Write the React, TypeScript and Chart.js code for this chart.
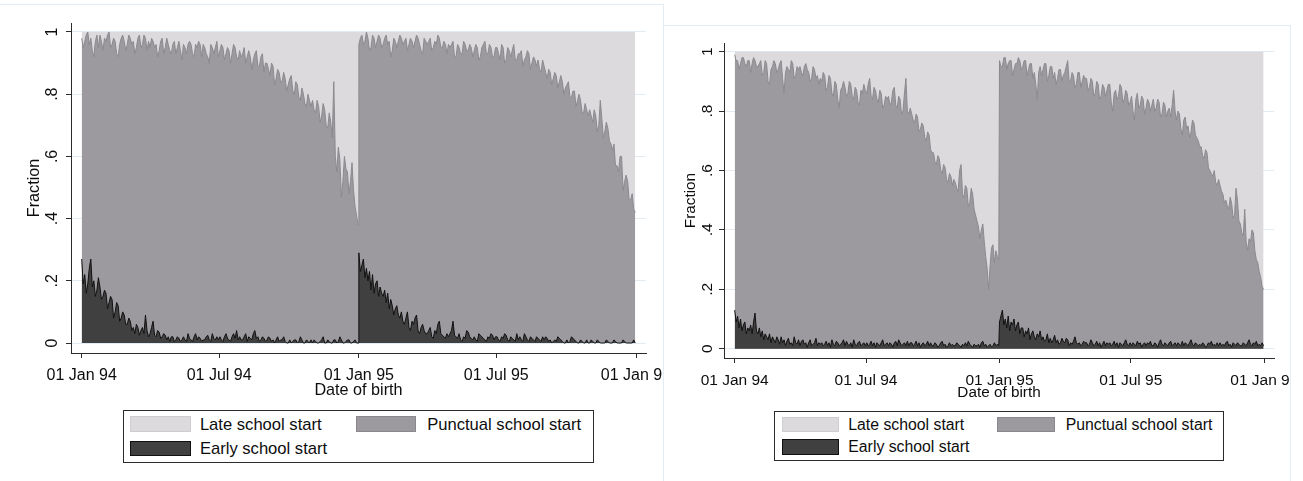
import React, { useEffect, useRef } from "react";
import { Chart, registerables } from "chart.js";

Chart.register(...registerables);

// ---------- data ----------
// Birth years, as day offsets from 01 Jan 1994; each year's values are sampled every 2nd day.
const YEAR_START_DAYS = [0, 365];
const YEAR_LAST_DAY_OFFSET = 364;

const X_TICK_DAYS = [0, 181, 365, 546, 730];
const X_TICK_LABELS = ["01 Jan 94", "01 Jul 94", "01 Jan 95", "01 Jul 95", "01 Jan 96"];
const Y_TICKS = [0, 0.2, 0.4, 0.6, 0.8, 1];
const Y_TICK_LABELS = ["0", ".2", ".4", ".6", ".8", "1"];
const X_TITLE = "Date of birth";
const Y_TITLE = "Fraction";
const SERIES_NAMES = ["Late school start", "Punctual school start", "Early school start"];

// Left panel: share with early or punctual start (upper edge of the punctual area)
const LEFT_EARLY_OR_PUNCTUAL_1994 = [
  0.98, 0.95, 0.97, 0.99, 1.0, 0.96, 0.98, 0.94, 0.92, 0.97, 0.99, 0.95, 0.99, 0.97, 0.94, 0.98,
  0.97, 0.99, 1.0, 0.95, 0.96, 0.98, 0.97, 0.93, 0.92, 0.96, 0.98, 0.99, 0.97, 0.94,
  0.96, 0.99, 0.98, 0.96, 0.97, 0.93, 0.95, 0.98, 0.99, 0.95, 0.96, 0.99, 0.98, 0.94, 0.97,
  0.95, 0.98, 0.97, 0.95, 0.96, 0.92, 0.94, 0.97, 0.98, 0.93, 0.95, 0.98, 0.96, 0.94, 0.93,
  0.96, 0.97, 0.93, 0.95, 0.97, 0.94, 0.91, 0.96, 0.95, 0.93, 0.96, 0.97, 0.96, 0.93, 0.92, 0.96,
  0.95, 0.97, 0.96, 0.92, 0.96, 0.95, 0.93, 0.92, 0.90, 0.96, 0.95, 0.93, 0.95, 0.97, 0.92,
  0.94, 0.96, 0.95, 0.91, 0.93, 0.95, 0.94, 0.90, 0.93, 0.96, 0.95, 0.92, 0.91, 0.94, 0.92,
  0.93, 0.95, 0.90, 0.92, 0.94, 0.92, 0.88, 0.91, 0.93, 0.94, 0.89, 0.89, 0.92, 0.93, 0.87, 0.90,
  0.90, 0.88, 0.86, 0.90, 0.89, 0.83, 0.85, 0.88, 0.87, 0.84, 0.84, 0.87, 0.85, 0.81, 0.83,
  0.85, 0.86, 0.81, 0.80, 0.84, 0.83, 0.79, 0.78, 0.82, 0.80, 0.77, 0.76, 0.80, 0.78, 0.76,
  0.78, 0.75, 0.74, 0.78, 0.76, 0.71, 0.73, 0.77, 0.75, 0.70, 0.69, 0.74, 0.71, 0.66, 0.84,
  0.60, 0.55, 0.63, 0.59, 0.47, 0.52, 0.60, 0.56, 0.55, 0.48, 0.52, 0.58, 0.49, 0.44, 0.41, 0.38,
];
const LEFT_EARLY_OR_PUNCTUAL_1995 = [
  0.96, 0.98, 0.99, 0.96, 0.97, 1.0, 0.98, 0.94, 0.95, 0.99, 0.98, 0.95, 0.97, 0.99, 0.98, 0.95,
  0.96, 0.98, 0.99, 0.96, 0.97, 0.92, 0.94, 0.98, 0.97, 0.95, 0.97, 0.99, 0.98, 0.96,
  0.97, 0.98, 0.94, 0.96, 0.98, 0.97, 0.95, 0.97, 0.99, 0.98, 0.96, 0.94, 0.93, 0.98, 0.97,
  0.96, 0.97, 0.98, 0.94, 0.95, 0.97, 0.96, 0.99, 0.98, 0.95, 0.95, 0.97, 0.96, 0.93, 0.96,
  0.95, 0.96, 0.97, 0.92, 0.92, 0.96, 0.95, 0.93, 0.93, 0.97, 0.96, 0.94, 0.94, 0.96, 0.95, 0.92,
  0.94, 0.96, 0.95, 0.91, 0.92, 0.95, 0.96, 0.97, 0.93, 0.93, 0.96, 0.95, 0.92, 0.92, 0.95,
  0.95, 0.93, 0.91, 0.96, 0.95, 0.90, 0.91, 0.95, 0.94, 0.92, 0.94, 0.96, 0.91, 0.91, 0.93,
  0.93, 0.94, 0.89, 0.91, 0.92, 0.94, 0.93, 0.88, 0.90, 0.92, 0.91, 0.89, 0.91, 0.88, 0.87, 0.91,
  0.89, 0.87, 0.85, 0.88, 0.87, 0.83, 0.85, 0.87, 0.86, 0.82, 0.84, 0.86, 0.84, 0.80, 0.82,
  0.83, 0.84, 0.79, 0.79, 0.81, 0.81, 0.76, 0.78, 0.80, 0.78, 0.74, 0.74, 0.77, 0.75, 0.73,
  0.75, 0.73, 0.71, 0.75, 0.73, 0.68, 0.70, 0.78, 0.72, 0.66, 0.68, 0.71, 0.69, 0.65, 0.64,
  0.62, 0.64, 0.57, 0.57, 0.55, 0.60, 0.60, 0.49, 0.52, 0.54, 0.52, 0.46, 0.46, 0.48, 0.43, 0.42,
];
const LEFT_EARLY_1994 = [
  0.27, 0.19, 0.22, 0.16, 0.19, 0.24, 0.27, 0.18, 0.20, 0.15, 0.17, 0.21, 0.18, 0.14, 0.15, 0.17,
  0.16, 0.11, 0.13, 0.15, 0.14, 0.08, 0.10, 0.13, 0.12, 0.07, 0.08, 0.10, 0.09, 0.06,
  0.06, 0.08, 0.07, 0.04, 0.05, 0.03, 0.06, 0.05, 0.025, 0.04, 0.05, 0.03, 0.09, 0.04, 0.02,
  0.03, 0.05, 0.07, 0.025, 0.02, 0.04, 0.035, 0.015, 0.02, 0.03, 0.025, 0.01, 0.02, 0.005, 0.02,
  0.02, 0.005, 0.01, 0.02, 0.015, 0.005, 0.01, 0.02, 0.01, 0.005, 0.03, 0.015, 0.01, 0.005, 0.02, 0.03,
  0.01, 0.02, 0.015, 0.005, 0.01, 0.01, 0.02, 0.025, 0.01, 0.005, 0.03, 0.015, 0.01, 0.02, 0.01,
  0.02, 0.01, 0.005, 0.02, 0.03, 0.015, 0.01, 0.005, 0.02, 0.03, 0.015, 0.04, 0.01, 0.02, 0.01,
  0.01, 0.02, 0.03, 0.005, 0.02, 0.015, 0.01, 0.03, 0.04, 0.015, 0.02, 0.005, 0.01, 0.02, 0.015, 0.005,
  0.01, 0.02, 0.015, 0.005, 0.01, 0.0, 0.01, 0.02, 0.005, 0.01, 0.01, 0.02, 0.005, 0.0, 0.0,
  0.01, 0.0, 0.005, 0.01, 0.01, 0.0, 0.005, 0.02, 0.01, 0.0, 0.0, 0.01, 0.005, 0.0, 0.01,
  0.0, 0.01, 0.005, 0.0, 0.0, 0.005, 0.01, 0.02, 0.0, 0.0, 0.01, 0.005, 0.0, 0.0, 0.01,
  0.01, 0.0, 0.005, 0.02, 0.01, 0.0, 0.0, 0.005, 0.01, 0.01, 0.0, 0.0, 0.005, 0.01, 0.0, 0.0,
];
const LEFT_EARLY_1995 = [
  0.29, 0.23, 0.25, 0.27, 0.21, 0.24, 0.20, 0.23, 0.17, 0.22, 0.16, 0.19, 0.20, 0.15, 0.18, 0.16,
  0.15, 0.17, 0.13, 0.16, 0.11, 0.14, 0.12, 0.09, 0.11, 0.12, 0.09, 0.08, 0.10, 0.07,
  0.06, 0.08, 0.10, 0.05, 0.04, 0.07, 0.06, 0.08, 0.09, 0.04, 0.03, 0.05, 0.06, 0.04, 0.03,
  0.03, 0.04, 0.05, 0.02, 0.015, 0.04, 0.03, 0.06, 0.07, 0.03, 0.025, 0.02, 0.015, 0.03, 0.02,
  0.03, 0.04, 0.07, 0.025, 0.02, 0.015, 0.03, 0.01, 0.005, 0.02, 0.015, 0.04, 0.035, 0.02, 0.015, 0.01,
  0.02, 0.01, 0.005, 0.03, 0.025, 0.02, 0.015, 0.01, 0.005, 0.02, 0.015, 0.03, 0.025, 0.01, 0.02,
  0.02, 0.01, 0.005, 0.02, 0.015, 0.03, 0.025, 0.01, 0.005, 0.02, 0.015, 0.01, 0.005, 0.03, 0.01,
  0.02, 0.01, 0.005, 0.03, 0.02, 0.01, 0.005, 0.02, 0.015, 0.01, 0.005, 0.02, 0.015, 0.01, 0.005, 0.02,
  0.01, 0.02, 0.015, 0.005, 0.01, 0.0, 0.005, 0.01, 0.005, 0.02, 0.015, 0.01, 0.005, 0.0, 0.0,
  0.01, 0.0, 0.005, 0.02, 0.015, 0.01, 0.005, 0.0, 0.0, 0.01, 0.005, 0.0, 0.0, 0.01, 0.0,
  0.0, 0.01, 0.005, 0.0, 0.0, 0.01, 0.005, 0.0, 0.0, 0.0, 0.0, 0.01, 0.005, 0.0, 0.0,
  0.0, 0.01, 0.005, 0.0, 0.0, 0.0, 0.0, 0.01, 0.005, 0.0, 0.0, 0.0, 0.0, 0.0, 0.01, 0.0,
];

// Right panel
const RIGHT_EARLY_OR_PUNCTUAL_1994 = [
  0.99, 0.97, 0.97, 0.94, 0.96, 0.98, 0.98, 0.96, 0.95, 0.97, 0.97, 0.93, 0.96, 0.98, 0.97, 0.95,
  0.95, 0.96, 0.97, 0.92, 0.93, 0.97, 0.96, 0.90, 0.89, 0.94, 0.95, 0.97, 0.96, 0.93,
  0.94, 0.96, 0.97, 0.91, 0.86, 0.93, 0.95, 0.94, 0.93, 0.97, 0.96, 0.91, 0.92, 0.95, 0.94,
  0.95, 0.93, 0.92, 0.95, 0.96, 0.94, 0.93, 0.90, 0.91, 0.95, 0.94, 0.91, 0.92, 0.89, 0.91,
  0.90, 0.93, 0.92, 0.87, 0.88, 0.92, 0.91, 0.86, 0.85, 0.90, 0.89, 0.84, 0.81, 0.87, 0.88, 0.90,
  0.88, 0.85, 0.86, 0.90, 0.89, 0.85, 0.84, 0.88, 0.87, 0.83, 0.82, 0.87, 0.86, 0.89, 0.87,
  0.86, 0.89, 0.91, 0.85, 0.84, 0.88, 0.87, 0.84, 0.83, 0.87, 0.86, 0.81, 0.82, 0.85, 0.84,
  0.85, 0.82, 0.83, 0.87, 0.88, 0.82, 0.81, 0.85, 0.84, 0.79, 0.80, 0.86, 0.91, 0.80, 0.79, 0.81,
  0.79, 0.77, 0.76, 0.79, 0.78, 0.73, 0.74, 0.76, 0.75, 0.71, 0.70, 0.73, 0.72, 0.67, 0.66,
  0.66, 0.63, 0.62, 0.65, 0.64, 0.60, 0.59, 0.62, 0.61, 0.57, 0.56, 0.59, 0.58, 0.55, 0.57,
  0.56, 0.54, 0.53, 0.60, 0.62, 0.52, 0.51, 0.55, 0.54, 0.48, 0.49, 0.54, 0.52, 0.47, 0.45,
  0.43, 0.41, 0.37, 0.40, 0.42, 0.36, 0.31, 0.27, 0.20, 0.28, 0.34, 0.35, 0.29, 0.33, 0.31, 0.30,
];
const RIGHT_EARLY_OR_PUNCTUAL_1995 = [
  0.97, 0.95, 0.95, 0.98, 0.98, 0.94, 0.96, 0.97, 0.97, 0.92, 0.94, 0.96, 0.96, 0.98, 0.97, 0.94,
  0.95, 0.97, 0.97, 0.92, 0.94, 0.96, 0.96, 0.91, 0.93, 0.89, 0.84, 0.93, 0.95, 0.92,
  0.94, 0.96, 0.96, 0.90, 0.92, 0.95, 0.95, 0.91, 0.93, 0.89, 0.91, 0.94, 0.94, 0.90, 0.92,
  0.93, 0.95, 0.97, 0.90, 0.90, 0.93, 0.92, 0.88, 0.89, 0.93, 0.93, 0.88, 0.90, 0.92, 0.91,
  0.91, 0.87, 0.88, 0.91, 0.90, 0.85, 0.86, 0.90, 0.89, 0.84, 0.85, 0.89, 0.88, 0.85, 0.87, 0.89,
  0.89, 0.83, 0.80, 0.86, 0.87, 0.84, 0.85, 0.89, 0.88, 0.83, 0.84, 0.87, 0.86, 0.82, 0.83,
  0.85, 0.80, 0.77, 0.84, 0.86, 0.81, 0.82, 0.85, 0.84, 0.79, 0.81, 0.84, 0.83, 0.80, 0.82,
  0.84, 0.80, 0.81, 0.84, 0.83, 0.78, 0.79, 0.83, 0.82, 0.78, 0.80, 0.81, 0.78, 0.82, 0.87, 0.80,
  0.77, 0.80, 0.79, 0.74, 0.72, 0.77, 0.78, 0.74, 0.75, 0.71, 0.73, 0.77, 0.76, 0.72, 0.71,
  0.70, 0.68, 0.68, 0.65, 0.64, 0.67, 0.66, 0.61, 0.60, 0.59, 0.58, 0.60, 0.56, 0.55, 0.57,
  0.55, 0.53, 0.52, 0.49, 0.50, 0.48, 0.47, 0.51, 0.49, 0.44, 0.45, 0.54, 0.50, 0.43, 0.42,
  0.39, 0.38, 0.47, 0.36, 0.33, 0.37, 0.36, 0.40, 0.39, 0.33, 0.30, 0.29, 0.26, 0.24, 0.21, 0.20,
];
const RIGHT_EARLY_1994 = [
  0.13, 0.09, 0.11, 0.07, 0.10, 0.06, 0.08, 0.09, 0.05, 0.07, 0.06, 0.08, 0.05, 0.09, 0.12, 0.06,
  0.05, 0.07, 0.04, 0.06, 0.03, 0.05, 0.04, 0.03, 0.05, 0.02, 0.04, 0.03, 0.02, 0.04,
  0.03, 0.015, 0.04, 0.02, 0.03, 0.01, 0.025, 0.035, 0.015, 0.02, 0.01, 0.04, 0.02, 0.015, 0.03,
  0.01, 0.025, 0.03, 0.015, 0.02, 0.005, 0.02, 0.03, 0.01, 0.015, 0.02, 0.035, 0.01, 0.02, 0.015,
  0.02, 0.01, 0.015, 0.025, 0.01, 0.02, 0.005, 0.03, 0.015, 0.01, 0.025, 0.02, 0.01, 0.015, 0.02, 0.03,
  0.01, 0.025, 0.015, 0.01, 0.02, 0.005, 0.03, 0.015, 0.01, 0.02, 0.025, 0.01, 0.015, 0.02, 0.01,
  0.02, 0.01, 0.015, 0.025, 0.01, 0.02, 0.005, 0.02, 0.015, 0.01, 0.02, 0.03, 0.01, 0.015, 0.02,
  0.01, 0.02, 0.015, 0.005, 0.02, 0.025, 0.01, 0.03, 0.02, 0.01, 0.015, 0.02, 0.01, 0.025, 0.01, 0.02,
  0.02, 0.01, 0.015, 0.025, 0.01, 0.02, 0.005, 0.015, 0.02, 0.01, 0.015, 0.025, 0.01, 0.02, 0.01,
  0.01, 0.02, 0.015, 0.005, 0.01, 0.02, 0.025, 0.01, 0.015, 0.005, 0.01, 0.02, 0.01, 0.015, 0.01,
  0.01, 0.02, 0.015, 0.01, 0.005, 0.015, 0.01, 0.02, 0.01, 0.025, 0.015, 0.01, 0.005, 0.015, 0.01,
  0.01, 0.015, 0.005, 0.02, 0.025, 0.01, 0.015, 0.005, 0.01, 0.015, 0.005, 0.01, 0.02, 0.01, 0.015, 0.01,
];
const RIGHT_EARLY_1995 = [
  0.09, 0.11, 0.13, 0.08, 0.10, 0.07, 0.11, 0.06, 0.09, 0.08, 0.10, 0.06, 0.08, 0.09, 0.05, 0.07,
  0.07, 0.04, 0.06, 0.05, 0.07, 0.03, 0.05, 0.06, 0.04, 0.03, 0.05, 0.04, 0.06, 0.03,
  0.04, 0.025, 0.03, 0.05, 0.02, 0.035, 0.02, 0.03, 0.045, 0.02, 0.03, 0.015, 0.02, 0.035, 0.025,
  0.02, 0.035, 0.03, 0.01, 0.02, 0.015, 0.025, 0.04, 0.02, 0.015, 0.02, 0.01, 0.015, 0.025, 0.02,
  0.02, 0.01, 0.015, 0.03, 0.02, 0.01, 0.015, 0.025, 0.01, 0.02, 0.005, 0.015, 0.025, 0.01, 0.02, 0.015,
  0.02, 0.01, 0.015, 0.025, 0.01, 0.02, 0.005, 0.02, 0.015, 0.01, 0.02, 0.03, 0.015, 0.01, 0.02,
  0.01, 0.02, 0.015, 0.01, 0.025, 0.015, 0.02, 0.005, 0.015, 0.02, 0.01, 0.02, 0.015, 0.025, 0.01,
  0.01, 0.02, 0.015, 0.005, 0.02, 0.03, 0.015, 0.01, 0.02, 0.015, 0.01, 0.02, 0.025, 0.01, 0.015, 0.02,
  0.01, 0.02, 0.015, 0.01, 0.025, 0.01, 0.02, 0.015, 0.01, 0.02, 0.03, 0.015, 0.01, 0.02, 0.015,
  0.01, 0.015, 0.01, 0.02, 0.015, 0.005, 0.01, 0.02, 0.015, 0.025, 0.01, 0.015, 0.01, 0.02, 0.01,
  0.02, 0.01, 0.015, 0.01, 0.02, 0.025, 0.01, 0.015, 0.005, 0.02, 0.015, 0.01, 0.02, 0.015, 0.01,
  0.01, 0.02, 0.015, 0.01, 0.02, 0.03, 0.015, 0.01, 0.02, 0.015, 0.025, 0.01, 0.015, 0.01, 0.02, 0.01,
];

// ---------- styles ----------
const COLORS = {
  late: "#dcdadd",
  lateEdge: "#cfcdd1",
  punctual: "#9c9a9e",
  punctualLine: "#8a888c",
  early: "#404040",
  earlyLine: "#111111",
  grid: "#e2ebf1",
  axis: "#2b2b2b",
  frame: "#e3ebf3",
  text: "#0d0d0d",
};
const FONT_FAMILY = '"Liberation Sans", Arial, Helvetica, sans-serif';

type Area = { left: number; right: number; top: number; bottom: number };
type PanelLayout = {
  canvasLeft: number;
  canvasWidth: number;
  canvasHeight: number;
  area: Area;
  day0Px: number;
  day730Px: number;
  one: number;
  zero: number;
  tickFont: number;
  titleFont: number;
  xLabelBaseline: number;
  xTitleBaseline: number;
  yLabelBaseline: number;
  yTitleBaseline: number;
};

const LEFT_LAYOUT: PanelLayout = {
  canvasLeft: 0,
  canvasWidth: 663,
  canvasHeight: 400,
  area: { left: 71, right: 646, top: 23, bottom: 353 },
  day0Px: 81.7,
  day730Px: 636,
  one: 32,
  zero: 343,
  tickFont: 16,
  titleFont: 16.2,
  xLabelBaseline: 380,
  xTitleBaseline: 395,
  yLabelBaseline: 56.7,
  yTitleBaseline: 39.3,
};
const RIGHT_LAYOUT: PanelLayout = {
  canvasLeft: 663,
  canvasWidth: 627,
  canvasHeight: 400,
  area: { left: 61, right: 611, top: 43, bottom: 358 },
  day0Px: 71.7,
  day730Px: 601.3,
  one: 51.7,
  zero: 348.7,
  tickFont: 15.5,
  titleFont: 15.3,
  xLabelBaseline: 385,
  xTitleBaseline: 396.7,
  yLabelBaseline: 49.3,
  yTitleBaseline: 32,
};

type LegendLayout = {
  left: number;
  top: number;
  width: number;
  height: number;
  font: number;
  swW: number;
  swH: number;
  swX: [number, number];
  swY: [number, number];
  textX: [number, number];
  textY: [number, number];
};
const LEFT_LEGEND: LegendLayout = {
  left: 122.7, top: 409.6, width: 471.4, height: 53.7, font: 16.6,
  swW: 60.6, swH: 15.9, swX: [7.6, 233.2], swY: [6.8, 31],
  textX: [78.2, 305.5], textY: [15.8, 39.9],
};
const RIGHT_LEGEND: LegendLayout = {
  left: 774.3, top: 410.7, width: 450, height: 50.6, font: 15.8,
  swW: 57.6, swH: 15.5, swX: [7.4, 222.7], swY: [6, 28.6],
  textX: [75, 292.4], textY: [14.5, 36.1],
};

// ---------- chart ----------
function yearPoints(startDay: number, vals: number[]) {
  const step = YEAR_LAST_DAY_OFFSET / (vals.length - 1);
  return vals.map((v, i) => ({ x: startDay + i * step, y: v }));
}

function makeChart(canvas: HTMLCanvasElement, L: PanelLayout, top94: number[], top95: number[], early94: number[], early95: number[]) {
  const topPts = yearPoints(YEAR_START_DAYS[0], top94).concat(yearPoints(YEAR_START_DAYS[1], top95));
  const earlyPts = yearPoints(YEAR_START_DAYS[0], early94).concat(yearPoints(YEAR_START_DAYS[1], early95));

  const a = L.area;
  const pxPerDay = (L.day730Px - L.day0Px) / 730;
  const xMin = -(L.day0Px - a.left) / pxPerDay;
  const xMax = 730 + (a.right - L.day730Px) / pxPerDay;
  const pxPerUnit = L.zero - L.one;
  const yMin = -(a.bottom - L.zero) / pxPerUnit;
  const yMax = 1 + (L.one - a.top) / pxPerUnit;

  const textPlugin = {
    id: "stataText",
    afterDraw(chart: any) {
      const ctx = chart.ctx as CanvasRenderingContext2D;
      const xs = chart.scales.x;
      const ys = chart.scales.y;
      const ca = chart.chartArea;
      ctx.save();
      ctx.fillStyle = COLORS.text;
      ctx.textAlign = "center";
      ctx.textBaseline = "alphabetic";
      ctx.font = `${L.tickFont}px ${FONT_FAMILY}`;
      X_TICK_DAYS.forEach((d, i) => {
        ctx.fillText(X_TICK_LABELS[i], xs.getPixelForValue(d), L.xLabelBaseline);
      });
      Y_TICKS.forEach((v, i) => {
        ctx.save();
        ctx.translate(L.yLabelBaseline, ys.getPixelForValue(v));
        ctx.rotate(-Math.PI / 2);
        ctx.fillText(Y_TICK_LABELS[i], 0, 0);
        ctx.restore();
      });
      ctx.font = `${L.titleFont}px ${FONT_FAMILY}`;
      ctx.fillText(X_TITLE, (ca.left + ca.right) / 2, L.xTitleBaseline);
      ctx.save();
      ctx.translate(L.yTitleBaseline, (ca.top + ca.bottom) / 2);
      ctx.rotate(-Math.PI / 2);
      ctx.fillText(Y_TITLE, 0, 0);
      ctx.restore();
      ctx.restore();
    },
  };

  return new Chart(canvas, {
    type: "line",
    data: {
      datasets: [
        {
          label: SERIES_NAMES[2],
          data: earlyPts,
          borderColor: COLORS.earlyLine,
          backgroundColor: COLORS.early,
          borderWidth: 1,
          fill: "origin",
        },
        {
          label: SERIES_NAMES[1],
          data: topPts,
          borderColor: COLORS.punctualLine,
          backgroundColor: COLORS.punctual,
          borderWidth: 1,
          fill: "origin",
        },
        {
          label: SERIES_NAMES[0],
          data: topPts,
          borderColor: COLORS.late,
          backgroundColor: COLORS.late,
          borderWidth: 0,
          fill: { value: 1 },
        },
      ],
    },
    options: {
      responsive: false,
      animation: false,
      events: [],
      parsing: false as any,
      normalized: true,
      elements: { point: { radius: 0 }, line: { tension: 0 } },
      layout: { padding: { left: 0, top: a.top, right: L.canvasWidth - a.right, bottom: 0 } },
      plugins: { legend: { display: false }, tooltip: { enabled: false } },
      scales: {
        x: {
          type: "linear",
          min: xMin,
          max: xMax,
          afterBuildTicks: (s: any) => {
            s.ticks = X_TICK_DAYS.map((v) => ({ value: v }));
          },
          afterFit: (s: any) => {
            s.height = L.canvasHeight - a.bottom;
          },
          ticks: { display: false },
          grid: { drawOnChartArea: false, drawTicks: true, tickLength: 5, tickColor: COLORS.axis, tickWidth: 1 },
          border: { display: true, color: COLORS.axis, width: 1 },
        },
        y: {
          type: "linear",
          min: yMin,
          max: yMax,
          afterBuildTicks: (s: any) => {
            s.ticks = Y_TICKS.map((v) => ({ value: v }));
          },
          afterFit: (s: any) => {
            s.width = a.left;
          },
          ticks: { display: false },
          grid: { color: COLORS.grid, lineWidth: 1, drawTicks: true, tickLength: 5, tickColor: COLORS.axis, tickWidth: 1 },
          border: { display: true, color: COLORS.axis, width: 1 },
        },
      },
    },
    plugins: [textPlugin],
  } as any);
}

function Panel(props: { layout: PanelLayout; top94: number[]; top95: number[]; early94: number[]; early95: number[] }) {
  const ref = useRef<HTMLCanvasElement | null>(null);
  const { layout } = props;
  useEffect(() => {
    if (!ref.current) return;
    const chart = makeChart(ref.current, layout, props.top94, props.top95, props.early94, props.early95);
    return () => chart.destroy();
  }, []);
  return (
    <canvas
      ref={ref}
      width={layout.canvasWidth}
      height={layout.canvasHeight}
      style={{
        position: "absolute",
        left: layout.canvasLeft,
        top: 0,
        width: layout.canvasWidth,
        height: layout.canvasHeight,
      }}
    />
  );
}

function Legend({ L }: { L: LegendLayout }) {
  const swatches = [
    { fill: COLORS.late, edge: COLORS.lateEdge, col: 0, row: 0, name: SERIES_NAMES[0] },
    { fill: COLORS.punctual, edge: COLORS.punctualLine, col: 1, row: 0, name: SERIES_NAMES[1] },
    { fill: COLORS.early, edge: COLORS.earlyLine, col: 0, row: 1, name: SERIES_NAMES[2] },
  ];
  return (
    <div
      style={{
        position: "absolute",
        left: L.left,
        top: L.top,
        width: L.width,
        height: L.height,
        boxSizing: "border-box",
        border: `1px solid ${COLORS.axis}`,
        background: "#ffffff",
      }}
    >
      {swatches.map((s) => (
        <React.Fragment key={s.name}>
          <div
            style={{
              position: "absolute",
              left: L.swX[s.col] - 1,
              top: L.swY[s.row] - 1,
              width: L.swW,
              height: L.swH,
              boxSizing: "border-box",
              background: s.fill,
              border: `1px solid ${s.edge}`,
            }}
          />
          <span
            style={{
              position: "absolute",
              left: L.textX[s.col] - 2,
              top: L.textY[s.row] - 1 - L.font / 2,
              fontFamily: FONT_FAMILY,
              fontSize: L.font,
              lineHeight: `${L.font}px`,
              whiteSpace: "nowrap",
              color: COLORS.text,
            }}
          >
            {s.name}
          </span>
        </React.Fragment>
      ))}
    </div>
  );
}

export default function App() {
  return (
    <div
      style={{
        position: "absolute",
        left: 0,
        top: 0,
        width: 1303,
        height: 481,
        overflow: "hidden",
        background: "#ffffff",
      }}
    >
      <div
        style={{
          position: "absolute",
          left: -1,
          top: 4,
          width: 665,
          height: 520,
          boxSizing: "border-box",
          border: `1px solid ${COLORS.frame}`,
        }}
      />
      <div
        style={{
          position: "absolute",
          left: 663,
          top: 25,
          width: 628,
          height: 520,
          boxSizing: "border-box",
          border: `1px solid ${COLORS.frame}`,
        }}
      />
      <Panel
        layout={LEFT_LAYOUT}
        top94={LEFT_EARLY_OR_PUNCTUAL_1994}
        top95={LEFT_EARLY_OR_PUNCTUAL_1995}
        early94={LEFT_EARLY_1994}
        early95={LEFT_EARLY_1995}
      />
      <Panel
        layout={RIGHT_LAYOUT}
        top94={RIGHT_EARLY_OR_PUNCTUAL_1994}
        top95={RIGHT_EARLY_OR_PUNCTUAL_1995}
        early94={RIGHT_EARLY_1994}
        early95={RIGHT_EARLY_1995}
      />
      <Legend L={LEFT_LEGEND} />
      <Legend L={RIGHT_LEGEND} />
    </div>
  );
}
